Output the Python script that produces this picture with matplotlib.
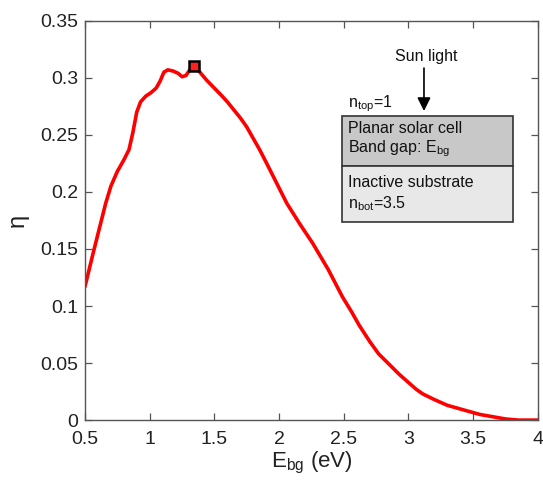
import numpy as np
import matplotlib.pyplot as plt

plt.rcParams['font.family'] = ['Liberation Sans', 'DejaVu Sans']

# band gap (eV) and efficiency
e_bg = [0.50, 0.56, 0.62, 0.66, 0.70, 0.75, 0.80, 0.84, 0.87, 0.90, 0.93, 0.97,
        1.01, 1.05, 1.08, 1.11, 1.14, 1.18, 1.22, 1.25, 1.28, 1.31, 1.34, 1.38,
        1.44, 1.50, 1.56, 1.60, 1.65, 1.70, 1.75, 1.80, 1.85, 1.90, 1.98, 2.06,
        2.16, 2.26, 2.38, 2.49, 2.56, 2.62, 2.70, 2.77, 2.85, 2.93, 3.00, 3.06,
        3.11, 3.20, 3.30, 3.44, 3.55, 3.65, 3.75, 3.85, 4.00]
eta = [0.117, 0.145, 0.172, 0.190, 0.205, 0.218, 0.228, 0.237, 0.252, 0.270, 0.279,
       0.284, 0.287, 0.291, 0.297, 0.305, 0.307, 0.306, 0.304, 0.301, 0.302, 0.307,
       0.310, 0.306, 0.298, 0.291, 0.284, 0.279, 0.272, 0.265, 0.257, 0.247, 0.237,
       0.226, 0.208, 0.190, 0.172, 0.155, 0.132, 0.108, 0.095, 0.083, 0.069, 0.058,
       0.049, 0.040, 0.033, 0.027, 0.023, 0.018, 0.013, 0.0085, 0.005, 0.003, 0.001,
       0.0, 0.0]
peak_x = 1.34
peak_y = 0.310

fig = plt.figure(figsize=(5.43, 4.84), dpi=100)
ax = fig.add_axes([0.1565, 0.132, 0.834, 0.825])

ax.plot(e_bg, eta, color='#ff0000', lw=2.6, solid_joinstyle='round', solid_capstyle='round')
ax.plot([peak_x], [peak_y], marker='s', ms=7, mfc='#ff2020', mec='black', mew=1.8)

ax.set_xlim(0.5, 4)
ax.set_ylim(0, 0.35)
ax.set_xticks(np.arange(0.5, 4.01, 0.5))
ax.set_xticklabels(['0.5', '1', '1.5', '2', '2.5', '3', '3.5', '4'])
ax.set_yticks(np.arange(0, 0.351, 0.05))
ax.set_yticklabels(['0', '0.05', '0.1', '0.15', '0.2', '0.25', '0.3', '0.35'])
ax.tick_params(direction='in', top=True, right=True, length=5, width=0.9,
               colors='#555555', labelcolor='#222222', labelsize=14)
ax.tick_params(axis='x', pad=8)
ax.tick_params(axis='y', pad=5)
for s in ax.spines.values():
    s.set_color('#555555')
    s.set_linewidth(1.0)

ax.set_xlabel(r'E$_{\mathregular{bg}}$ (eV)', fontsize=16, color='#222222', labelpad=1)
ax.set_ylabel('η', fontsize=17, color='#222222')
ax.yaxis.set_label_coords(-0.125, 0.5)

# inset sketch of the cell
bx0, bx1 = 2.49, 3.81
ytop, ymid, ybot = 0.2665, 0.2227, 0.1736
ax.add_patch(plt.Rectangle((bx0, ymid), bx1 - bx0, ytop - ymid, fc='#c8c8c8', ec='#333333', lw=1.2))
ax.add_patch(plt.Rectangle((bx0, ybot), bx1 - bx0, ymid - ybot, fc='#e8e8e8', ec='#333333', lw=1.2))
tx = 2.53
fs = 11.5
ax.text(tx, 0.2555, 'Planar solar cell', fontsize=fs, va='center', color='#111111')
ax.text(tx, 0.2375, r'Band gap: E$_{\mathregular{bg}}$', fontsize=fs, va='center', color='#111111')
ax.text(tx, 0.2085, 'Inactive substrate', fontsize=fs, va='center', color='#111111')
ax.text(tx, 0.1895, r'n$_{\mathregular{bot}}$=3.5', fontsize=fs, va='center', color='#111111')
ax.text(tx, 0.2775, r'n$_{\mathregular{top}}$=1', fontsize=fs, va='center', color='#111111')
ax.text(3.14, 0.319, 'Sun light', fontsize=fs, va='center', ha='center', color='#111111')
ax.annotate('', xy=(3.12, 0.2685), xytext=(3.12, 0.311),
            arrowprops=dict(arrowstyle='-|>', color='black', lw=1.2, mutation_scale=20))

fig.savefig('out.png', dpi=100)
